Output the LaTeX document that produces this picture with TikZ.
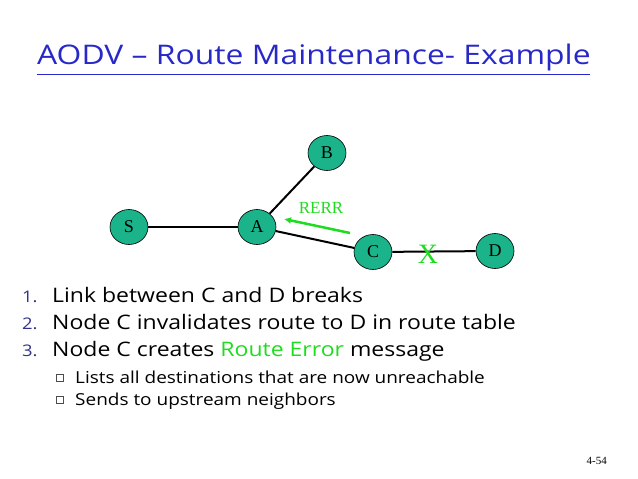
\documentclass[tikz,border=0pt]{standalone}
\usepackage{fontspec}
\usetikzlibrary{shapes.geometric,arrows.meta}
\setmainfont{Liberation Serif}
\newfontfamily\cs[FakeStretch=1.15]{Open Sans}
\newfontfamily\cst[FakeStretch=1.18]{Open Sans}
\definecolor{nodefill}{RGB}{26,179,138}
\definecolor{errgreen}{RGB}{30,220,30}
\definecolor{titleblue}{RGB}{40,40,200}
\definecolor{numblue}{RGB}{50,50,140}
\begin{document}
\begin{tikzpicture}[x=1pt,y=-1pt,
  net/.style={ellipse,draw=black,line width=0.6pt,fill=nodefill,minimum width=38pt,minimum height=35pt,inner sep=0pt,font=\fontsize{18}{18}\selectfont},
  link/.style={line width=2pt},
  item/.style={anchor=base west,inner sep=0pt,font=\cs\fontsize{20}{20}\selectfont},
  sub/.style={anchor=base west,inner sep=0pt,font=\cs\fontsize{16.5}{16.5}\selectfont}]
\useasboundingbox (0,0) rectangle (638,479);
\node[anchor=base west,inner sep=0pt,text=titleblue,font=\cst\fontsize{27}{27}\selectfont] (title) at (37,64) {AODV – Route Maintenance- Example};
\draw[titleblue,line width=1pt] (37,74) -- (590,74);
\node[net] (S) at (129,227) {S};
\node[net] (A) at (257,227) {A};
\node[net] (B) at (327,153) {B};
\node[net] (C) at (373,252) {C};
\node[net] (D) at (495,251) {D};
\draw[link] (S) -- (A);
\draw[link] (A) -- (B);
\draw[link] (A) -- (C);
\draw[link] (C) -- (D);
\node[text=errgreen,font=\fontsize{28}{28}\selectfont,inner sep=0pt] (X) at (428,254) {X};
\node[text=errgreen,font=\fontsize{17}{17}\selectfont,inner sep=0pt] (rerr) at (321,208) {RERR};
\coordinate (r1) at (350,233);
\coordinate (r2) at (284,219);
\draw[errgreen,line width=2.5pt,-{Latex[length=7pt,width=7pt]}] (r1) -- (r2);
\node[item,text=numblue,font=\cs\fontsize{16}{16}\selectfont] (n1) at (22,302) {1.};
\node[item] (t1) at (52,302) {Link between C and D breaks};
\node[item,text=numblue,font=\cs\fontsize{16}{16}\selectfont] (n2) at (22,329) {2.};
\node[item] (t2) at (52,329) {Node C invalidates route to D in route table};
\node[item,text=numblue,font=\cs\fontsize{16}{16}\selectfont] (n3) at (22,356) {3.};
\node[item] (t3) at (52,356) {Node C creates \textcolor{errgreen}{Route Error} message};
\node[draw=black!70,line width=0.5pt,minimum size=7pt,inner sep=0pt] (b1) at (60,378) {};
\node[sub] (s1) at (75,383) {Lists all destinations that are now unreachable};
\node[draw=black!70,line width=0.5pt,minimum size=7pt,inner sep=0pt] (b2) at (60,400) {};
\node[sub] (s2) at (75,405) {Sends to upstream neighbors};
\node[anchor=base east,inner sep=0pt,font=\fontsize{11}{11}\selectfont] (pg) at (607,464) {4-54};
\end{tikzpicture}
\end{document}
